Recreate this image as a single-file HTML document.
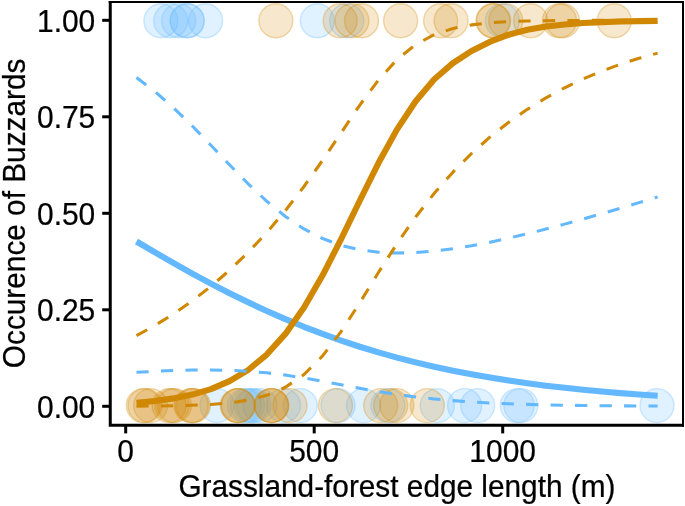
<!DOCTYPE html>
<html lang="en"><head><meta charset="utf-8"><title>Occurence of Buzzards</title>
<style>html,body{margin:0;padding:0;background:#fff}body{width:685px;height:506px;overflow:hidden}</style></head>
<body>
<svg width="685" height="506" viewBox="0 0 685 506" style="display:block;font-family:'Liberation Sans',Arial,Helvetica,sans-serif">
<rect width="685" height="506" fill="#fff"/>
<g><circle cx="160.9" cy="20.7" r="17.0" fill="#63B8FF" fill-opacity="0.2" stroke="#63B8FF" stroke-opacity="0.3" stroke-width="1.4"/><circle cx="170.7" cy="20.7" r="17.0" fill="#63B8FF" fill-opacity="0.2" stroke="#63B8FF" stroke-opacity="0.3" stroke-width="1.4"/><circle cx="178.6" cy="20.7" r="17.0" fill="#63B8FF" fill-opacity="0.2" stroke="#63B8FF" stroke-opacity="0.3" stroke-width="1.4"/><circle cx="187.2" cy="20.7" r="17.0" fill="#63B8FF" fill-opacity="0.2" stroke="#63B8FF" stroke-opacity="0.3" stroke-width="1.4"/><circle cx="187.2" cy="20.7" r="17.0" fill="#63B8FF" fill-opacity="0.2" stroke="#63B8FF" stroke-opacity="0.3" stroke-width="1.4"/><circle cx="205.6" cy="20.7" r="17.0" fill="#63B8FF" fill-opacity="0.2" stroke="#63B8FF" stroke-opacity="0.3" stroke-width="1.4"/><circle cx="217" cy="405.6" r="17.0" fill="#63B8FF" fill-opacity="0.2" stroke="#63B8FF" stroke-opacity="0.3" stroke-width="1.4"/><circle cx="244.5" cy="405.6" r="17.0" fill="#63B8FF" fill-opacity="0.2" stroke="#63B8FF" stroke-opacity="0.3" stroke-width="1.4"/><circle cx="247.5" cy="405.6" r="17.0" fill="#63B8FF" fill-opacity="0.2" stroke="#63B8FF" stroke-opacity="0.3" stroke-width="1.4"/><circle cx="251.3" cy="405.6" r="17.0" fill="#63B8FF" fill-opacity="0.2" stroke="#63B8FF" stroke-opacity="0.3" stroke-width="1.4"/><circle cx="253.8" cy="405.6" r="17.0" fill="#63B8FF" fill-opacity="0.2" stroke="#63B8FF" stroke-opacity="0.3" stroke-width="1.4"/><circle cx="260" cy="405.6" r="17.0" fill="#63B8FF" fill-opacity="0.2" stroke="#63B8FF" stroke-opacity="0.3" stroke-width="1.4"/><circle cx="283.5" cy="405.6" r="17.0" fill="#63B8FF" fill-opacity="0.2" stroke="#63B8FF" stroke-opacity="0.3" stroke-width="1.4"/><circle cx="300.3" cy="405.6" r="17.0" fill="#63B8FF" fill-opacity="0.2" stroke="#63B8FF" stroke-opacity="0.3" stroke-width="1.4"/><circle cx="317.3" cy="20.7" r="17.0" fill="#63B8FF" fill-opacity="0.2" stroke="#63B8FF" stroke-opacity="0.3" stroke-width="1.4"/><circle cx="338" cy="405.6" r="17.0" fill="#63B8FF" fill-opacity="0.2" stroke="#63B8FF" stroke-opacity="0.3" stroke-width="1.4"/><circle cx="346.7" cy="20.7" r="17.0" fill="#63B8FF" fill-opacity="0.2" stroke="#63B8FF" stroke-opacity="0.3" stroke-width="1.4"/><circle cx="363.5" cy="405.6" r="17.0" fill="#63B8FF" fill-opacity="0.2" stroke="#63B8FF" stroke-opacity="0.3" stroke-width="1.4"/><circle cx="388" cy="405.6" r="17.0" fill="#63B8FF" fill-opacity="0.2" stroke="#63B8FF" stroke-opacity="0.3" stroke-width="1.4"/><circle cx="437.3" cy="405.6" r="17.0" fill="#63B8FF" fill-opacity="0.2" stroke="#63B8FF" stroke-opacity="0.3" stroke-width="1.4"/><circle cx="464.6" cy="405.6" r="17.0" fill="#63B8FF" fill-opacity="0.2" stroke="#63B8FF" stroke-opacity="0.3" stroke-width="1.4"/><circle cx="477.7" cy="405.6" r="17.0" fill="#63B8FF" fill-opacity="0.2" stroke="#63B8FF" stroke-opacity="0.3" stroke-width="1.4"/><circle cx="502.4" cy="20.7" r="17.0" fill="#63B8FF" fill-opacity="0.2" stroke="#63B8FF" stroke-opacity="0.3" stroke-width="1.4"/><circle cx="517.3" cy="405.6" r="17.0" fill="#63B8FF" fill-opacity="0.2" stroke="#63B8FF" stroke-opacity="0.3" stroke-width="1.4"/><circle cx="520.8" cy="405.6" r="17.0" fill="#63B8FF" fill-opacity="0.2" stroke="#63B8FF" stroke-opacity="0.3" stroke-width="1.4"/><circle cx="657" cy="405.6" r="17.0" fill="#63B8FF" fill-opacity="0.2" stroke="#63B8FF" stroke-opacity="0.3" stroke-width="1.4"/><circle cx="143.3" cy="405.6" r="17.0" fill="#D08803" fill-opacity="0.2" stroke="#D08803" stroke-opacity="0.3" stroke-width="1.4"/><circle cx="145.0" cy="405.6" r="17.0" fill="#D08803" fill-opacity="0.2" stroke="#D08803" stroke-opacity="0.3" stroke-width="1.4"/><circle cx="150.6" cy="405.6" r="17.0" fill="#D08803" fill-opacity="0.2" stroke="#D08803" stroke-opacity="0.3" stroke-width="1.4"/><circle cx="169.1" cy="405.6" r="17.0" fill="#D08803" fill-opacity="0.2" stroke="#D08803" stroke-opacity="0.3" stroke-width="1.4"/><circle cx="172.0" cy="405.6" r="17.0" fill="#D08803" fill-opacity="0.2" stroke="#D08803" stroke-opacity="0.3" stroke-width="1.4"/><circle cx="174.4" cy="405.6" r="17.0" fill="#D08803" fill-opacity="0.2" stroke="#D08803" stroke-opacity="0.3" stroke-width="1.4"/><circle cx="191.0" cy="405.6" r="17.0" fill="#D08803" fill-opacity="0.2" stroke="#D08803" stroke-opacity="0.3" stroke-width="1.4"/><circle cx="192.2" cy="405.6" r="17.0" fill="#D08803" fill-opacity="0.2" stroke="#D08803" stroke-opacity="0.3" stroke-width="1.4"/><circle cx="193.4" cy="405.6" r="17.0" fill="#D08803" fill-opacity="0.2" stroke="#D08803" stroke-opacity="0.3" stroke-width="1.4"/><circle cx="237.3" cy="405.6" r="17.0" fill="#D08803" fill-opacity="0.2" stroke="#D08803" stroke-opacity="0.3" stroke-width="1.4"/><circle cx="237.9" cy="405.6" r="17.0" fill="#D08803" fill-opacity="0.2" stroke="#D08803" stroke-opacity="0.3" stroke-width="1.4"/><circle cx="238.5" cy="405.6" r="17.0" fill="#D08803" fill-opacity="0.2" stroke="#D08803" stroke-opacity="0.3" stroke-width="1.4"/><circle cx="271.2" cy="405.6" r="17.0" fill="#D08803" fill-opacity="0.2" stroke="#D08803" stroke-opacity="0.3" stroke-width="1.4"/><circle cx="271.5" cy="405.6" r="17.0" fill="#D08803" fill-opacity="0.2" stroke="#D08803" stroke-opacity="0.3" stroke-width="1.4"/><circle cx="271.8" cy="405.6" r="17.0" fill="#D08803" fill-opacity="0.2" stroke="#D08803" stroke-opacity="0.3" stroke-width="1.4"/><circle cx="275.9" cy="20.7" r="17.0" fill="#D08803" fill-opacity="0.2" stroke="#D08803" stroke-opacity="0.3" stroke-width="1.4"/><circle cx="290" cy="405.6" r="17.0" fill="#D08803" fill-opacity="0.2" stroke="#D08803" stroke-opacity="0.3" stroke-width="1.4"/><circle cx="335.5" cy="405.6" r="17.0" fill="#D08803" fill-opacity="0.2" stroke="#D08803" stroke-opacity="0.3" stroke-width="1.4"/><circle cx="340.2" cy="20.7" r="17.0" fill="#D08803" fill-opacity="0.2" stroke="#D08803" stroke-opacity="0.3" stroke-width="1.4"/><circle cx="351.9" cy="20.7" r="17.0" fill="#D08803" fill-opacity="0.2" stroke="#D08803" stroke-opacity="0.3" stroke-width="1.4"/><circle cx="361.5" cy="20.7" r="17.0" fill="#D08803" fill-opacity="0.2" stroke="#D08803" stroke-opacity="0.3" stroke-width="1.4"/><circle cx="380.7" cy="405.6" r="17.0" fill="#D08803" fill-opacity="0.2" stroke="#D08803" stroke-opacity="0.3" stroke-width="1.4"/><circle cx="390.7" cy="405.6" r="17.0" fill="#D08803" fill-opacity="0.2" stroke="#D08803" stroke-opacity="0.3" stroke-width="1.4"/><circle cx="396.8" cy="405.6" r="17.0" fill="#D08803" fill-opacity="0.2" stroke="#D08803" stroke-opacity="0.3" stroke-width="1.4"/><circle cx="400.6" cy="20.7" r="17.0" fill="#D08803" fill-opacity="0.2" stroke="#D08803" stroke-opacity="0.3" stroke-width="1.4"/><circle cx="427.3" cy="405.6" r="17.0" fill="#D08803" fill-opacity="0.2" stroke="#D08803" stroke-opacity="0.3" stroke-width="1.4"/><circle cx="440.6" cy="20.7" r="17.0" fill="#D08803" fill-opacity="0.2" stroke="#D08803" stroke-opacity="0.3" stroke-width="1.4"/><circle cx="451.1" cy="20.7" r="17.0" fill="#D08803" fill-opacity="0.2" stroke="#D08803" stroke-opacity="0.3" stroke-width="1.4"/><circle cx="493.0" cy="20.7" r="17.0" fill="#D08803" fill-opacity="0.2" stroke="#D08803" stroke-opacity="0.3" stroke-width="1.4"/><circle cx="493.6" cy="20.7" r="17.0" fill="#D08803" fill-opacity="0.2" stroke="#D08803" stroke-opacity="0.3" stroke-width="1.4"/><circle cx="505.7" cy="20.7" r="17.0" fill="#D08803" fill-opacity="0.2" stroke="#D08803" stroke-opacity="0.3" stroke-width="1.4"/><circle cx="530.6" cy="20.7" r="17.0" fill="#D08803" fill-opacity="0.2" stroke="#D08803" stroke-opacity="0.3" stroke-width="1.4"/><circle cx="559.5" cy="20.7" r="17.0" fill="#D08803" fill-opacity="0.2" stroke="#D08803" stroke-opacity="0.3" stroke-width="1.4"/><circle cx="562.5" cy="20.7" r="17.0" fill="#D08803" fill-opacity="0.2" stroke="#D08803" stroke-opacity="0.3" stroke-width="1.4"/><circle cx="614.3" cy="20.7" r="17.0" fill="#D08803" fill-opacity="0.2" stroke="#D08803" stroke-opacity="0.3" stroke-width="1.4"/></g>
<g fill="none" stroke-linejoin="round">
<path d="M136.48,241.50 L155.10,252.46 L173.71,263.17 L192.32,273.56 L210.93,283.58 L229.55,293.17 L248.16,302.32 L266.77,310.98 L285.39,319.14 L304.00,326.80 L322.61,333.95 L341.23,340.59 L359.84,346.73 L378.45,352.40 L397.06,357.61 L415.68,362.39 L434.29,366.75 L452.90,370.72 L471.52,374.33 L490.13,377.60 L508.74,380.57 L527.36,383.24 L545.97,385.66 L564.58,387.83 L583.19,389.79 L601.81,391.54 L620.42,393.12 L639.03,394.53 L657.65,395.80" stroke="#63B8FF" stroke-width="6.1"/>
<path d="M136.48,402.69 L155.10,400.94 L173.71,398.37 L192.32,394.59 L210.93,389.09 L229.55,381.18 L248.16,370.00 L266.77,354.55 L285.39,333.89 L304.00,307.43 L322.61,275.33 L341.23,238.89 L359.84,200.49 L378.45,163.09 L397.06,129.39 L415.68,101.22 L434.29,79.28 L452.90,63.08 L471.52,51.05 L490.13,41.72 L508.74,34.62 L527.36,29.68 L545.97,26.49 L564.58,24.43 L583.19,23.07 L601.81,22.16 L620.42,21.55 L639.03,21.14 L657.65,20.86" stroke="#D08803" stroke-width="6.1"/>
<path d="M136.48,77.51 L155.10,91.70 L173.71,107.99 L192.32,126.03 L210.93,145.23 L229.55,164.80 L248.16,183.78 L266.77,201.26 L285.39,216.47 L304.00,228.95 L322.61,238.54 L341.23,245.40 L359.84,249.84 L378.45,252.28 L397.06,253.08 L415.68,252.59 L434.29,251.06 L452.90,248.71 L471.52,245.69 L490.13,242.13 L508.74,238.13 L527.36,233.75 L545.97,229.07 L564.58,224.13 L583.19,218.98 L601.81,213.66 L620.42,208.19 L639.03,202.61 L657.65,196.95" stroke="#63B8FF" stroke-width="3.06" stroke-dasharray="12.25 12.25"/>
<path d="M136.48,372.30 L155.10,371.32 L173.71,370.54 L192.32,370.06 L210.93,369.94 L229.55,370.31 L248.16,371.25 L266.77,372.84 L285.39,375.11 L304.00,377.99 L322.61,381.31 L341.23,384.83 L359.84,388.32 L378.45,391.57 L397.06,394.46 L415.68,396.92 L434.29,398.96 L452.90,400.62 L471.52,401.93 L490.13,402.96 L508.74,403.77 L527.36,404.38 L545.97,404.85 L564.58,405.21 L583.19,405.48 L601.81,405.69 L620.42,405.84 L639.03,405.96 L657.65,406.05" stroke="#63B8FF" stroke-width="3.06" stroke-dasharray="12.25 12.25"/>
<path d="M136.48,335.66 L155.10,325.37 L173.71,313.78 L192.32,300.81 L210.93,286.33 L229.55,270.21 L248.16,252.33 L266.77,232.51 L285.39,210.61 L304.00,186.50 L322.61,160.29 L341.23,132.61 L359.84,105.04 L378.45,79.95 L397.06,59.49 L415.68,44.56 L434.29,34.64 L452.90,28.50 L471.52,24.88 L490.13,22.82 L508.74,21.67 L527.36,21.04 L545.97,20.70 L564.58,20.51 L583.19,20.41 L601.81,20.36 L620.42,20.33 L639.03,20.32 L657.65,20.31" stroke="#D08803" stroke-width="3.06" stroke-dasharray="12.25 12.25"/>
<path d="M136.48,406.15 L155.10,406.01 L173.71,405.76 L192.32,405.30 L210.93,404.44 L229.55,402.90 L248.16,400.13 L266.77,395.32 L285.39,387.27 L304.00,374.54 L322.61,355.93 L341.23,331.41 L359.84,302.67 L378.45,272.53 L397.06,243.51 L415.68,216.95 L434.29,193.21 L452.90,172.15 L471.52,153.50 L490.13,136.96 L508.74,122.31 L527.36,109.34 L545.97,97.88 L564.58,87.77 L583.19,78.89 L601.81,71.09 L620.42,64.26 L639.03,58.31 L657.65,53.12" stroke="#D08803" stroke-width="3.06" stroke-dasharray="12.25 12.25"/>
</g>
<g stroke="#000" fill="none">
<path d="M108.75,2 H684 M683,1 V426.75" stroke-width="2"/>
<path d="M110.25,1 V426.75 M108.75,425.25 H684" stroke-width="3"/>
<path d="M102.2,406.30 H109" stroke-width="3"/>
<path d="M102.2,309.80 H109" stroke-width="3"/>
<path d="M102.2,213.30 H109" stroke-width="3"/>
<path d="M102.2,116.80 H109" stroke-width="3"/>
<path d="M102.2,20.30 H109" stroke-width="3"/>
<path d="M125.70,426 V433.4" stroke-width="3"/>
<path d="M314.20,426 V433.4" stroke-width="3"/>
<path d="M502.70,426 V433.4" stroke-width="3"/>
</g>
<g font-size="31.4" fill="#000" stroke="#000" stroke-width="0.25">
<text transform="translate(95.3,417.80) scale(0.955,1)" text-anchor="end">0.00</text>
<text transform="translate(95.3,321.30) scale(0.955,1)" text-anchor="end">0.25</text>
<text transform="translate(95.3,224.80) scale(0.955,1)" text-anchor="end">0.50</text>
<text transform="translate(95.3,128.30) scale(0.955,1)" text-anchor="end">0.75</text>
<text transform="translate(95.3,31.80) scale(0.955,1)" text-anchor="end">1.00</text>
<text transform="translate(125.70,461.6) scale(0.955,1)" text-anchor="middle">0</text>
<text transform="translate(314.20,461.6) scale(0.955,1)" text-anchor="middle">500</text>
<text transform="translate(502.70,461.6) scale(0.955,1)" text-anchor="middle">1000</text>
<text transform="translate(396.9,497.0) scale(0.949,1)" text-anchor="middle">Grassland-forest edge length (m)</text>
<text transform="translate(24.6,213.4) rotate(-90) scale(0.949,1)" text-anchor="middle">Occurence of Buzzards</text>
</g>
</svg>
</body></html>
